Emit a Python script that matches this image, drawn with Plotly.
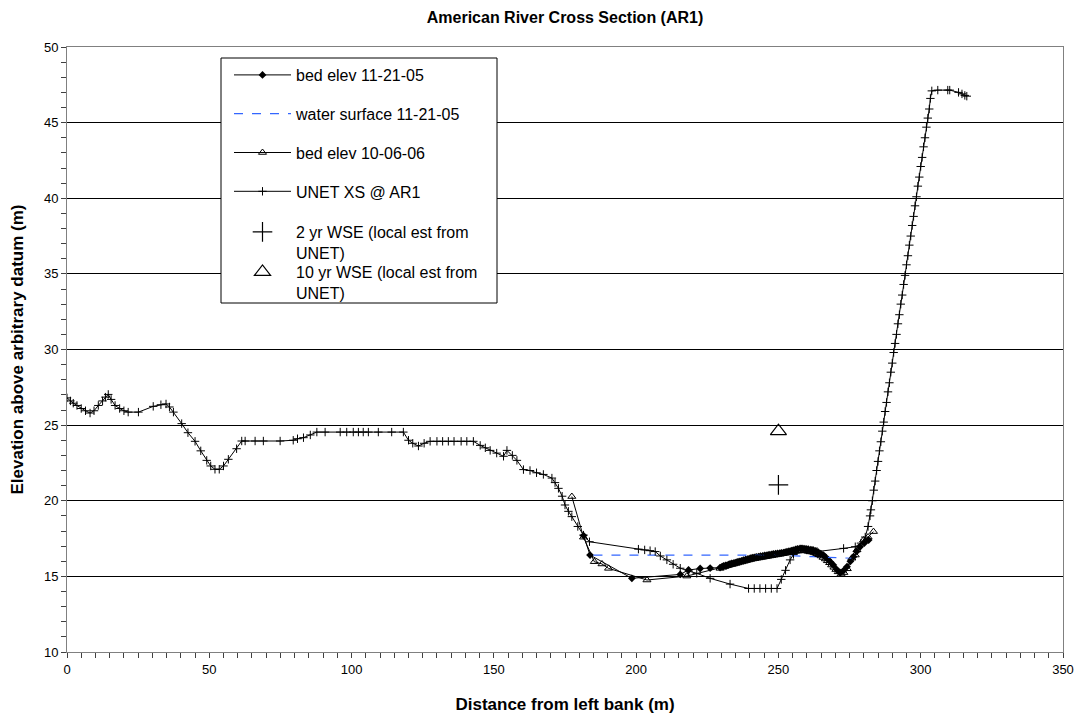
import plotly.graph_objects as go

# ---------------- data ----------------
unet_x = [0, 1.2, 2.2, 3.5, 5, 6.5, 8.1, 9.5, 11, 12.5, 13.5, 14.5, 15.5, 16.9, 18.5, 20, 21.5, 25.1,
          30.3, 33, 34.8, 36, 37.4, 40.3, 42.5, 45.0, 47, 49.1, 50.5, 52.0, 53.5, 55, 56.7, 59.6,
          61.4, 62.6, 66.1, 69.0, 74.9, 79.5, 81, 83.1, 85.5, 87.8, 90.7, 96.0, 98.3, 100.6, 102.4,
          104.1, 105.9, 109.4, 114.1, 118.2, 120.0, 121.5, 123.5, 125.5, 127.6, 130, 132, 134, 136,
          138.5, 140.5, 142.8, 145.2, 147, 148.7, 151, 153.4, 154.6, 156.5, 158.1, 160.4, 162.7,
          165, 167.4, 170.4, 171.5, 172.7, 174, 175.0, 176.2, 177.4, 179.5, 181.5, 183.6, 200.8,
          203, 204.9, 206.7, 208.5, 210.8, 213, 215.5, 218.5, 221.3, 226.0, 233.0, 239.5, 241.5,
          243.5, 245.5, 247.5, 249.5, 251, 252.5, 254.1, 255.3, 256.5, 258, 260, 262, 263.6, 272.9,
          277.0, 279, 280.5, 281.5, 282.2, 282.5, 283.0, 283.5, 284.0, 284.5, 285.0, 285.5, 286.0,
          286.5, 287.0, 287.5, 288.0, 288.5, 289.0, 289.5, 290.0, 290.5, 291.0, 291.5, 292.0, 292.5,
          293.0, 293.5, 294.0, 294.5, 295.0, 295.5, 296.0, 296.5, 297.0, 297.5, 298.0, 298.5, 299.0,
          299.5, 300.0, 300.5, 301.0, 301.5, 302.0, 302.5, 303.0, 303.4, 303.9, 306.0, 309.5, 310.2,
          313.3, 314.5, 315.5, 316.2]
unet_y = [26.8, 26.6, 26.45, 26.3, 26.1, 25.95, 25.8, 25.95, 26.3, 26.6, 26.85, 27.03, 26.7, 26.3, 26.1,
          25.95, 25.86, 25.86, 26.24, 26.35, 26.4, 26.2, 25.86, 25.1, 24.5, 23.93, 23.3, 22.67, 22.3,
          22.08, 22.08, 22.3, 22.74, 23.44, 23.95, 23.95, 23.95, 23.95, 23.95, 24.0, 24.1, 24.17,
          24.35, 24.54, 24.54, 24.54, 24.54, 24.54, 24.54, 24.54, 24.54, 24.54, 24.54, 24.54, 24.0,
          23.8, 23.62, 23.8, 23.93, 23.93, 23.93, 23.93, 23.93, 23.93, 23.93, 23.93, 23.66, 23.5,
          23.33, 23.15, 22.94, 23.33, 23.0, 22.67, 22.06, 22.0, 21.85, 21.74, 21.5, 21.2, 20.82,
          20.3, 19.72, 19.3, 18.95, 18.3, 17.73, 17.29, 16.8, 16.75, 16.7, 16.64, 16.35, 16.09,
          15.8, 15.54, 15.35, 15.2, 14.87, 14.49, 14.2, 14.2, 14.2, 14.2, 14.2, 14.2, 14.8, 15.4,
          16.09, 16.45, 16.75, 16.8, 16.75, 16.7, 16.64, 16.85, 16.96, 17.2, 17.6, 18.3, 19.0,
          19.4, 20.0, 20.7, 21.3, 22.0, 22.6, 23.3, 23.9, 24.6, 25.2, 25.9, 26.5, 27.2, 27.8, 28.5,
          29.1, 29.8, 30.4, 31.0, 31.7, 32.3, 33.0, 33.6, 34.3, 34.9, 35.6, 36.2, 36.9, 37.5, 38.2,
          38.8, 39.5, 40.1, 40.8, 41.4, 42.1, 42.7, 43.4, 44.0, 44.7, 45.3, 45.9, 46.6, 47.1, 47.15,
          47.15, 47.15, 47.0, 46.9, 46.8, 46.75]

bed05_x = [181.5, 183.8, 198.5, 215.5, 218.4, 222.5, 226.0, 229.5, 230.2, 230.7, 231.4, 232, 232.6, 233,
           233.6, 234.2, 234.8, 235.5, 236.2, 237, 237.7, 238.5, 239.3, 240.1, 240.8, 241.5, 242.2,
           243, 243.7, 244.5, 245.2, 246.0, 246.7, 247.5, 248.2, 249, 249.7, 250.5, 251.1, 251.8,
           252.4, 253, 253.7, 254.5, 255.2, 256, 256.8, 257.6, 258.3, 259, 259.7, 260.5, 261.4,
           262.3, 263.1, 264, 264.9, 265.8, 266.6, 267.5, 268.4, 269.3, 270.5, 271.7, 273, 274.1,
           275.3, 276.4, 277.5, 278.7, 280.2, 281.7]
bed05_y = [17.7, 16.41, 14.87, 15.13, 15.42, 15.52, 15.55, 15.58, 15.64, 15.69, 15.72, 15.75, 15.79,
           15.82, 15.85, 15.87, 15.91, 15.95, 15.99, 16.03, 16.08, 16.12, 16.16, 16.2, 16.23, 16.26,
           16.29, 16.31, 16.34, 16.36, 16.39, 16.41, 16.43, 16.45, 16.48, 16.5, 16.52, 16.54, 16.56,
           16.57, 16.6, 16.63, 16.66, 16.7, 16.74, 16.78, 16.82, 16.85, 16.85, 16.84, 16.82, 16.8,
           16.77, 16.74, 16.68, 16.6, 16.51, 16.41, 16.27, 16.1, 15.93, 15.75, 15.45, 15.24, 15.4,
           15.64, 16.0, 16.3, 16.65, 16.96, 17.2, 17.4]

water_x = [185.0, 250.0, 262.0, 275.8]
water_y = [16.41, 16.41, 16.3, 16.2]

bed06_x = [177.4, 181.5, 185.3, 188.0, 190.3, 203.8, 217.8, 229.5, 230.5, 231.2, 232, 232.7, 233.5, 234.2,
           235, 235.7, 236.5, 237.2, 238, 238.7, 239.5, 240.2, 241, 241.7, 242.5, 243.2, 244, 244.7,
           245.5, 246.2, 247, 247.7, 248.5, 249.2, 250, 250.7, 251.5, 252.2, 253, 253.7, 254.5,
           255.2, 256, 256.7, 257.5, 258.2, 259, 259.7, 260.5, 261.2, 262, 262.7, 263.5, 264.2,
           265, 265.7, 266.5, 267.2, 268, 268.7, 269.5, 270.2, 271, 272, 273, 274.2, 275.8, 277.0,
           277.6, 279.9, 281.5, 283.4]
bed06_y = [20.28, 17.59, 15.97, 15.82, 15.53, 14.76, 15.02, 15.53, 15.6, 15.65, 15.7, 15.74, 15.78,
           15.81, 15.85, 15.89, 15.93, 15.96, 16.0, 16.04, 16.08, 16.11, 16.15, 16.17, 16.2, 16.22,
           16.25, 16.27, 16.3, 16.32, 16.35, 16.37, 16.4, 16.42, 16.45, 16.47, 16.5, 16.52, 16.55,
           16.57, 16.6, 16.62, 16.65, 16.67, 16.7, 16.7, 16.7, 16.68, 16.65, 16.62, 16.6, 16.55,
           16.5, 16.43, 16.35, 16.25, 16.15, 16.03, 15.9, 15.75, 15.6, 15.45, 15.3, 15.15, 15.25,
           15.5, 16.2, 16.41, 16.75, 17.4, 17.6, 17.96]

wse2_x = [250]
wse2_y = [21.05]
wse10_x = [250]
wse10_y = [24.6]

names = ["bed elev 11-21-05", "water surface 11-21-05", "bed elev 10-06-06", "UNET XS @ AR1",
         "2 yr WSE (local est from<br>UNET)", "10 yr WSE (local est from<br>UNET)"]

FONT = "Liberation Sans, Arial, sans-serif"

fig = go.Figure()
fig.add_trace(go.Scatter(x=bed05_x, y=bed05_y, name=names[0], mode="lines+markers",
                         line=dict(color="black", width=1),
                         marker=dict(symbol="diamond", size=6, color="black"),
                         legendgroup="a", legend="legend"))
fig.add_trace(go.Scatter(x=water_x, y=water_y, name=names[1], mode="lines",
                         line=dict(color="#3366ff", width=1.2, dash="dash"),
                         legendgroup="b", legend="legend"))
fig.add_trace(go.Scatter(x=bed06_x, y=bed06_y, name=names[2], mode="lines+markers",
                         line=dict(color="black", width=1),
                         marker=dict(symbol="triangle-up-open", size=7, color="black",
                                     line=dict(width=1, color="black")),
                         legendgroup="c", legend="legend"))
fig.add_trace(go.Scatter(x=unet_x, y=unet_y, name=names[3], mode="lines+markers",
                         line=dict(color="black", width=1),
                         marker=dict(symbol="cross-thin", size=6, color="black",
                                     line=dict(width=1, color="black")),
                         legendgroup="d", legend="legend"))
fig.add_trace(go.Scatter(x=wse2_x, y=wse2_y, name=names[4], mode="markers",
                         marker=dict(symbol="cross-thin", size=14, color="black",
                                     line=dict(width=1.2, color="black")),
                         legendgroup="e", legend="legend2"))
fig.add_trace(go.Scatter(x=wse10_x, y=wse10_y, name=names[5], mode="markers",
                         marker=dict(symbol="triangle-up-open", size=14, color="black",
                                     line=dict(width=1.2, color="black")),
                         legendgroup="f", legend="legend3"))

# legend frame (pixel layout -> paper fractions)
PL, PR, PT, PB = 67, 1063, 47, 652
fx = lambda px: (px - PL) / (PR - PL)
fy = lambda py: (PB - py) / (PB - PT)

leg_common = dict(xanchor="left", yanchor="top", borderwidth=0, bgcolor="rgba(0,0,0,0)",
                  font=dict(family=FONT, size=16, color="black"), valign="top", itemwidth=57)

fig.update_layout(
    template="none",
    width=1080, height=717,
    margin=dict(l=PL, r=1080 - PR, t=PT, b=717 - PB, autoexpand=False),
    paper_bgcolor="white", plot_bgcolor="white",
    font=dict(family=FONT, size=13, color="black"),
    title=dict(text="<b>American River Cross Section (AR1)</b>", x=0.5, xref="paper",
               y=1 - 17 / 717, yref="container", yanchor="middle",
               font=dict(family=FONT, size=16, color="black")),
    legend=dict(x=fx(229), y=fy(58), tracegroupgap=15, **leg_common),
    legend2=dict(x=fx(229), y=fy(215), tracegroupgap=0, **leg_common),
    legend3=dict(x=fx(229), y=fy(255), tracegroupgap=0, **leg_common),
    shapes=[dict(type="rect", xref="paper", yref="paper", x0=fx(221), x1=fx(497),
                 y0=fy(303), y1=fy(58), line=dict(color="black", width=1),
                 fillcolor="white", layer="above")],
    showlegend=True,
)
fig.update_xaxes(range=[0, 350], dtick=50, tick0=0, showgrid=False, zeroline=False, automargin=False,
                 showline=True, linecolor="#808080", linewidth=1, mirror=True,
                 ticks="outside", ticklen=5, tickcolor="#404040",
                 minor=dict(dtick=5, ticks="outside", ticklen=5, tickcolor="#404040", showgrid=False),
                 tickfont=dict(family=FONT, size=13, color="black"),
                 title=dict(text="<b>Distance from left bank (m)</b>", standoff=22,
                            font=dict(family=FONT, size=17, color="black")))
fig.update_yaxes(range=[10, 50], dtick=5, tick0=10, showgrid=True, gridcolor="black", gridwidth=1,
                 zeroline=False, automargin=False, showline=True, linecolor="#808080", linewidth=1,
                 mirror=True, ticks="outside", ticklen=5, tickcolor="#404040",
                 minor=dict(dtick=1, ticks="outside", ticklen=5, tickcolor="#404040", showgrid=False),
                 tickfont=dict(family=FONT, size=13, color="black"),
                 title=dict(text="<b>Elevation above arbitrary datum (m)</b>", standoff=15,
                            font=dict(family=FONT, size=17, color="black")))

fig.write_html("out.html")
